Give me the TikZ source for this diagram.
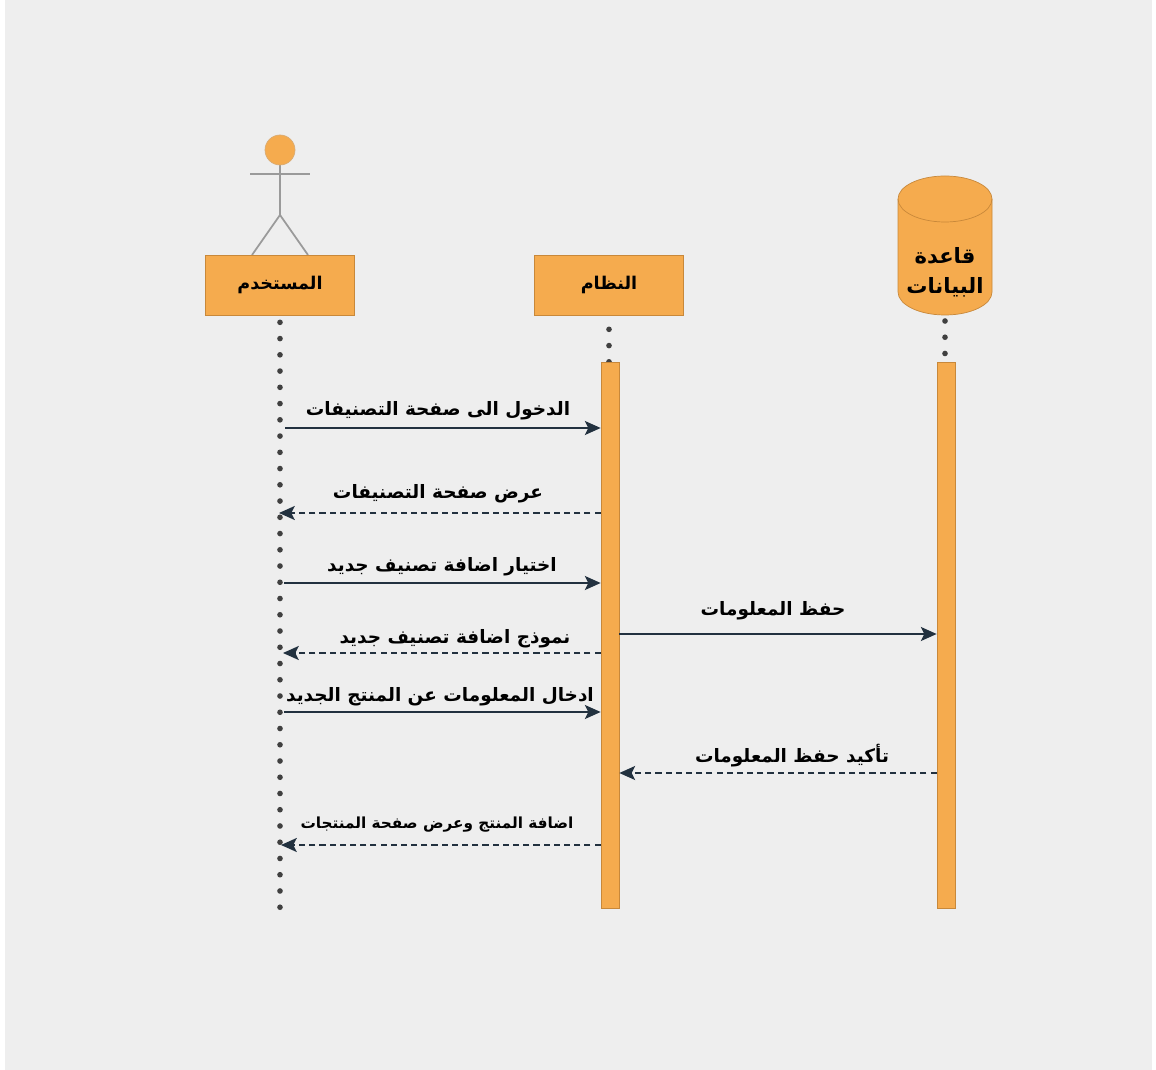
\documentclass[tikz,border=0pt]{standalone}
\usepackage{fontspec}
\newfontfamily\arabicfont[Script=Arabic]{DejaVu Sans}
\TeXXeTstate=1
\usetikzlibrary{arrows.meta, positioning}
\definecolor{boxfill}{HTML}{F5AB4E}
\definecolor{boxline}{HTML}{C8883A}
\definecolor{msgcol}{HTML}{22313F}
\definecolor{bgcol}{HTML}{EEEEEE}
\definecolor{stickcol}{HTML}{9A9A9A}
\tikzset{%
   head/.style={
      draw=boxline,
      fill=boxfill,
      minimum width=2.98cm,
      minimum height=1.2cm,
      inner sep=0pt,
      font=\arabicfont\bfseries\fontsize{10}{12}\selectfont
   },
   bar/.style={
      draw=boxline,
      fill=boxfill,
      minimum width=0.36cm,
      minimum height=10.92cm,
      inner sep=0pt
   },
   life/.style={
      draw=black!75,
      line width=3.2pt,
      line cap=round,
      dash pattern=on 0pt off 0.325cm
   },
   msg/.style={
      draw=msgcol,
      line width=1pt,
      -{Stealth[length=9pt,width=8pt,inset=2pt]}
   },
   reply/.style={
      msg,
      dash pattern=on 3.5pt off 2.3pt
   },
   lbl/.style={
      inner sep=1pt,
      font=\arabicfont\bfseries\fontsize{10.5}{13}\selectfont
   },
   stick/.style={
      draw=stickcol,
      line width=1pt
   },
}

\begin{document}
\begin{tikzpicture}[x=0.02cm, y=-0.02cm]
      \useasboundingbox[fill=white] (0,0) rectangle (1156,1070);
      \fill[bgcol] (5,0) rectangle (1152,1070);
      % actor
      \draw[stick] (280,165) -- (280,215);
      \draw[stick] (250,174) -- (310,174);
      \draw[stick] (252,255) -- (280,215) -- (308,255);
      \node[circle, draw=boxline!70, fill=boxfill, minimum size=0.6cm, inner sep=0pt] (uhead) at (280,150) {};
      \node[head] (u) at (280,285) {\beginR المستخدم\endR};
      \node[head] (s) at (609,285) {\beginR النظام\endR};
      % database
      \draw[draw=boxline, fill=boxfill] (898,199) -- (898,292)
         arc[start angle=180, end angle=0, x radius=47, y radius=23] -- (992,199)
         arc[start angle=0, end angle=-180, x radius=47, y radius=23] -- cycle;
      \draw[draw=boxline] (898,199) arc[start angle=180, end angle=0, x radius=47, y radius=23];
      \node[lbl, align=center, font=\arabicfont\bfseries\fontsize{12}{17}\selectfont] (db) at (945,272) {\beginR قاعدة\endR\\\beginR البيانات\endR};
      % lifelines
      \coordinate (uend) at (280,918);
      \coordinate (dbtop) at (945,321);
      \draw[life] ([yshift=-0.14cm]u.south) -- (uend);
      \draw[life] ([yshift=-0.28cm]s.south) -- ++(0,36);
      \draw[life] (dbtop) -- ++(0,36);
      \node[bar] (sbar) at (610,635) {};
      \node[bar] (dbbar) at (946,635) {};
      % messages
      \coordinate (u1) at (285,428);
      \coordinate (u2) at (279,513);
      \coordinate (u3) at (284,583);
      \coordinate (d4) at (773,634);
      \coordinate (u5) at (283,653);
      \coordinate (u6) at (284,712);
      \coordinate (d7) at (790,773);
      \coordinate (u8) at (281,845);
      \draw[msg] (u1) -- (sbar.west |- u1);
      \draw[reply] (sbar.west |- u2) -- (u2);
      \draw[msg] (u3) -- (sbar.west |- u3);
      \draw[msg] (sbar.east |- d4) -- (dbbar.west |- d4);
      \draw[reply] (sbar.west |- u5) -- (u5);
      \draw[msg] (u6) -- (sbar.west |- u6);
      \draw[reply] (dbbar.west |- d7) -- (sbar.east |- d7);
      \draw[reply] (sbar.west |- u8) -- (u8);
      \node[lbl] (l1) at (438,411) {\beginR الدخول الى صفحة التصنيفات\endR};
      \node[lbl] (l2) at (438,494) {\beginR عرض صفحة التصنيفات\endR};
      \node[lbl] (l3) at (442,567) {\beginR اختيار اضافة تصنيف جديد\endR};
      \node[lbl] (l4) at (773,611) {\beginR حفظ المعلومات\endR};
      \node[lbl] (l5) at (455,639) {\beginR نموذج اضافة تصنيف جديد\endR};
      \node[lbl] (l6) at (440,697) {\beginR ادخال المعلومات عن المنتج الجديد\endR};
      \node[lbl] (l7) at (792,756) {\beginR تأكيد حفظ المعلومات\endR};
      \node[lbl, font=\arabicfont\bfseries\fontsize{8.7}{11}\selectfont] (l8) at (437,825) {\beginR اضافة المنتج وعرض صفحة المنتجات\endR};
   \end{tikzpicture}
\end{document}
